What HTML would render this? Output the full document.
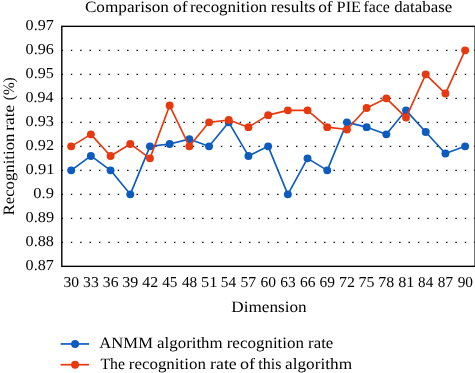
<!DOCTYPE html>
<html lang="en"><head><meta charset="utf-8"><title>Comparison of recognition results of PIE face database</title>
<style>html,body{margin:0;padding:0;background:#fff}svg{display:block;will-change:transform}text{text-rendering:geometricPrecision;font-family:"Liberation Serif","DejaVu Serif",serif;font-size:15.8px;fill:#000}.d text{font-size:15.1px}</style></head><body>
<svg width="475" height="373" viewBox="0 0 475 373">
<rect width="475" height="373" fill="#fff"/>
<g stroke="#000" stroke-width="1.05" stroke-dasharray="1.4 7.980" fill="none">
<line x1="61.45" y1="50.35" x2="475.50" y2="50.35"/>
<line x1="61.45" y1="74.35" x2="475.50" y2="74.35"/>
<line x1="61.45" y1="98.35" x2="475.50" y2="98.35"/>
<line x1="61.45" y1="122.35" x2="475.50" y2="122.35"/>
<line x1="61.45" y1="146.35" x2="475.50" y2="146.35"/>
<line x1="61.45" y1="170.35" x2="475.50" y2="170.35"/>
<line x1="61.45" y1="194.35" x2="475.50" y2="194.35"/>
<line x1="61.45" y1="218.35" x2="475.50" y2="218.35"/>
<line x1="61.45" y1="242.35" x2="475.50" y2="242.35"/>
</g>
<rect x="61.80" y="26.35" width="413.35" height="240.00" fill="none" stroke="#000" stroke-width="1.4"/>
<polyline points="71.18,170.35 90.88,155.95 110.57,170.35 130.27,194.35 149.97,146.35 169.66,143.95 189.36,139.15 209.06,146.35 228.76,122.35 248.45,155.95 268.15,146.35 287.85,194.35 307.54,158.35 327.24,170.35 346.94,122.35 366.64,127.15 386.33,134.35 406.03,110.35 425.73,131.95 445.42,153.55 465.12,146.35" fill="none" stroke="#0c5cbf" stroke-width="1.65" stroke-linejoin="round"/>
<g fill="#0c5cbf"><circle cx="71.18" cy="170.35" r="3.95"/><circle cx="90.88" cy="155.95" r="3.95"/><circle cx="110.57" cy="170.35" r="3.95"/><circle cx="130.27" cy="194.35" r="3.95"/><circle cx="149.97" cy="146.35" r="3.95"/><circle cx="169.66" cy="143.95" r="3.95"/><circle cx="189.36" cy="139.15" r="3.95"/><circle cx="209.06" cy="146.35" r="3.95"/><circle cx="228.76" cy="122.35" r="3.95"/><circle cx="248.45" cy="155.95" r="3.95"/><circle cx="268.15" cy="146.35" r="3.95"/><circle cx="287.85" cy="194.35" r="3.95"/><circle cx="307.54" cy="158.35" r="3.95"/><circle cx="327.24" cy="170.35" r="3.95"/><circle cx="346.94" cy="122.35" r="3.95"/><circle cx="366.64" cy="127.15" r="3.95"/><circle cx="386.33" cy="134.35" r="3.95"/><circle cx="406.03" cy="110.35" r="3.95"/><circle cx="425.73" cy="131.95" r="3.95"/><circle cx="445.42" cy="153.55" r="3.95"/><circle cx="465.12" cy="146.35" r="3.95"/></g>
<polyline points="71.18,146.35 90.88,134.35 110.57,155.95 130.27,143.95 149.97,158.35 169.66,105.55 189.36,146.35 209.06,122.35 228.76,119.95 248.45,127.15 268.15,115.15 287.85,110.35 307.54,110.35 327.24,127.15 346.94,129.55 366.64,107.95 386.33,98.35 406.03,117.55 425.73,74.35 445.42,93.55 465.12,50.35" fill="none" stroke="#e8390e" stroke-width="1.65" stroke-linejoin="round"/>
<g fill="#e8390e"><circle cx="71.18" cy="146.35" r="3.95"/><circle cx="90.88" cy="134.35" r="3.95"/><circle cx="110.57" cy="155.95" r="3.95"/><circle cx="130.27" cy="143.95" r="3.95"/><circle cx="149.97" cy="158.35" r="3.95"/><circle cx="169.66" cy="105.55" r="3.95"/><circle cx="189.36" cy="146.35" r="3.95"/><circle cx="209.06" cy="122.35" r="3.95"/><circle cx="228.76" cy="119.95" r="3.95"/><circle cx="248.45" cy="127.15" r="3.95"/><circle cx="268.15" cy="115.15" r="3.95"/><circle cx="287.85" cy="110.35" r="3.95"/><circle cx="307.54" cy="110.35" r="3.95"/><circle cx="327.24" cy="127.15" r="3.95"/><circle cx="346.94" cy="129.55" r="3.95"/><circle cx="366.64" cy="107.95" r="3.95"/><circle cx="386.33" cy="98.35" r="3.95"/><circle cx="406.03" cy="117.55" r="3.95"/><circle cx="425.73" cy="74.35" r="3.95"/><circle cx="445.42" cy="93.55" r="3.95"/><circle cx="465.12" cy="50.35" r="3.95"/></g>
<g class="d">
<text x="25.62" y="30.25" textLength="28.23" lengthAdjust="spacingAndGlyphs">0.97</text>
<text x="25.60" y="54.25" textLength="28.17" lengthAdjust="spacingAndGlyphs">0.96</text>
<text x="25.59" y="78.25" textLength="28.26" lengthAdjust="spacingAndGlyphs">0.95</text>
<text x="25.60" y="102.25" textLength="28.04" lengthAdjust="spacingAndGlyphs">0.94</text>
<text x="25.59" y="126.25" textLength="28.38" lengthAdjust="spacingAndGlyphs">0.93</text>
<text x="25.59" y="150.25" textLength="28.47" lengthAdjust="spacingAndGlyphs">0.92</text>
<text x="25.57" y="174.25" textLength="28.85" lengthAdjust="spacingAndGlyphs">0.91</text>
<text x="33.32" y="198.25" textLength="20.64" lengthAdjust="spacingAndGlyphs">0.9</text>
<text x="25.59" y="222.25" textLength="28.50" lengthAdjust="spacingAndGlyphs">0.89</text>
<text x="25.60" y="246.25" textLength="28.30" lengthAdjust="spacingAndGlyphs">0.88</text>
<text x="25.62" y="270.25" textLength="28.23" lengthAdjust="spacingAndGlyphs">0.87</text>
<text x="63.49" y="287.00" textLength="15.55" lengthAdjust="spacingAndGlyphs">30</text>
<text x="83.06" y="287.00" textLength="15.66" lengthAdjust="spacingAndGlyphs">33</text>
<text x="102.87" y="287.00" textLength="15.59" lengthAdjust="spacingAndGlyphs">36</text>
<text x="122.31" y="287.00" textLength="16.01" lengthAdjust="spacingAndGlyphs">39</text>
<text x="142.38" y="287.00" textLength="15.81" lengthAdjust="spacingAndGlyphs">42</text>
<text x="162.24" y="287.00" textLength="15.22" lengthAdjust="spacingAndGlyphs">45</text>
<text x="181.90" y="287.00" textLength="15.29" lengthAdjust="spacingAndGlyphs">48</text>
<text x="201.08" y="287.00" textLength="16.36" lengthAdjust="spacingAndGlyphs">51</text>
<text x="220.85" y="287.00" textLength="15.32" lengthAdjust="spacingAndGlyphs">54</text>
<text x="240.49" y="287.00" textLength="15.72" lengthAdjust="spacingAndGlyphs">57</text>
<text x="260.43" y="287.00" textLength="15.52" lengthAdjust="spacingAndGlyphs">60</text>
<text x="280.20" y="287.00" textLength="15.40" lengthAdjust="spacingAndGlyphs">63</text>
<text x="299.90" y="287.00" textLength="15.52" lengthAdjust="spacingAndGlyphs">66</text>
<text x="319.60" y="287.00" textLength="15.47" lengthAdjust="spacingAndGlyphs">69</text>
<text x="339.01" y="287.00" textLength="15.92" lengthAdjust="spacingAndGlyphs">72</text>
<text x="358.54" y="287.00" textLength="15.97" lengthAdjust="spacingAndGlyphs">75</text>
<text x="378.23" y="287.00" textLength="15.98" lengthAdjust="spacingAndGlyphs">78</text>
<text x="398.25" y="287.00" textLength="16.14" lengthAdjust="spacingAndGlyphs">81</text>
<text x="418.12" y="287.00" textLength="15.08" lengthAdjust="spacingAndGlyphs">84</text>
<text x="437.81" y="287.00" textLength="15.19" lengthAdjust="spacingAndGlyphs">87</text>
<text x="457.69" y="287.00" textLength="15.34" lengthAdjust="spacingAndGlyphs">90</text>
</g>
<text x="84.91" y="12.00" textLength="84.04" lengthAdjust="spacingAndGlyphs">Comparison</text>
<text x="172.93" y="12.00" textLength="14.59" lengthAdjust="spacingAndGlyphs">of</text>
<text x="189.98" y="12.00" textLength="77.13" lengthAdjust="spacingAndGlyphs">recognition</text>
<text x="270.71" y="12.00" textLength="44.67" lengthAdjust="spacingAndGlyphs">results</text>
<text x="318.15" y="12.00" textLength="14.44" lengthAdjust="spacingAndGlyphs">of</text>
<text x="336.60" y="12.00" textLength="24.45" lengthAdjust="spacingAndGlyphs">PIE</text>
<text x="363.46" y="12.00" textLength="26.32" lengthAdjust="spacingAndGlyphs">face</text>
<text x="394.16" y="12.00" textLength="58.07" lengthAdjust="spacingAndGlyphs">database</text>
<text x="231.24" y="312.00" textLength="75.37" lengthAdjust="spacingAndGlyphs">Dimension</text>
<g transform="translate(14.3,214.9) rotate(-90)">
<text x="-0.56" y="0.00" textLength="81.84" lengthAdjust="spacingAndGlyphs">Recognition</text>
<text x="84.27" y="0.00" textLength="25.80" lengthAdjust="spacingAndGlyphs">rate</text>
<text x="114.74" y="0.00" textLength="22.86" lengthAdjust="spacingAndGlyphs">(%)</text>
</g>
<line x1="60.6" y1="343.95" x2="89.1" y2="343.95" stroke="#0c5cbf" stroke-width="1.7"/>
<circle cx="75.05" cy="343.95" r="3.95" fill="#0c5cbf"/>
<line x1="60.6" y1="364.70" x2="89.1" y2="364.70" stroke="#e8390e" stroke-width="1.7"/>
<circle cx="75.05" cy="364.70" r="3.95" fill="#e8390e"/>
<text x="99.36" y="348.10" textLength="53.59" lengthAdjust="spacingAndGlyphs">ANMM</text>
<text x="157.13" y="348.10" textLength="65.50" lengthAdjust="spacingAndGlyphs">algorithm</text>
<text x="226.71" y="348.10" textLength="77.31" lengthAdjust="spacingAndGlyphs">recognition</text>
<text x="308.13" y="348.10" textLength="25.12" lengthAdjust="spacingAndGlyphs">rate</text>
<text x="100.45" y="368.90" textLength="24.55" lengthAdjust="spacingAndGlyphs">The</text>
<text x="128.81" y="368.90" textLength="77.07" lengthAdjust="spacingAndGlyphs">recognition</text>
<text x="210.08" y="368.90" textLength="26.71" lengthAdjust="spacingAndGlyphs">rate</text>
<text x="240.04" y="368.90" textLength="15.07" lengthAdjust="spacingAndGlyphs">of</text>
<text x="258.32" y="368.90" textLength="23.05" lengthAdjust="spacingAndGlyphs">this</text>
<text x="285.05" y="368.90" textLength="66.98" lengthAdjust="spacingAndGlyphs">algorithm</text>
</svg></body></html>
